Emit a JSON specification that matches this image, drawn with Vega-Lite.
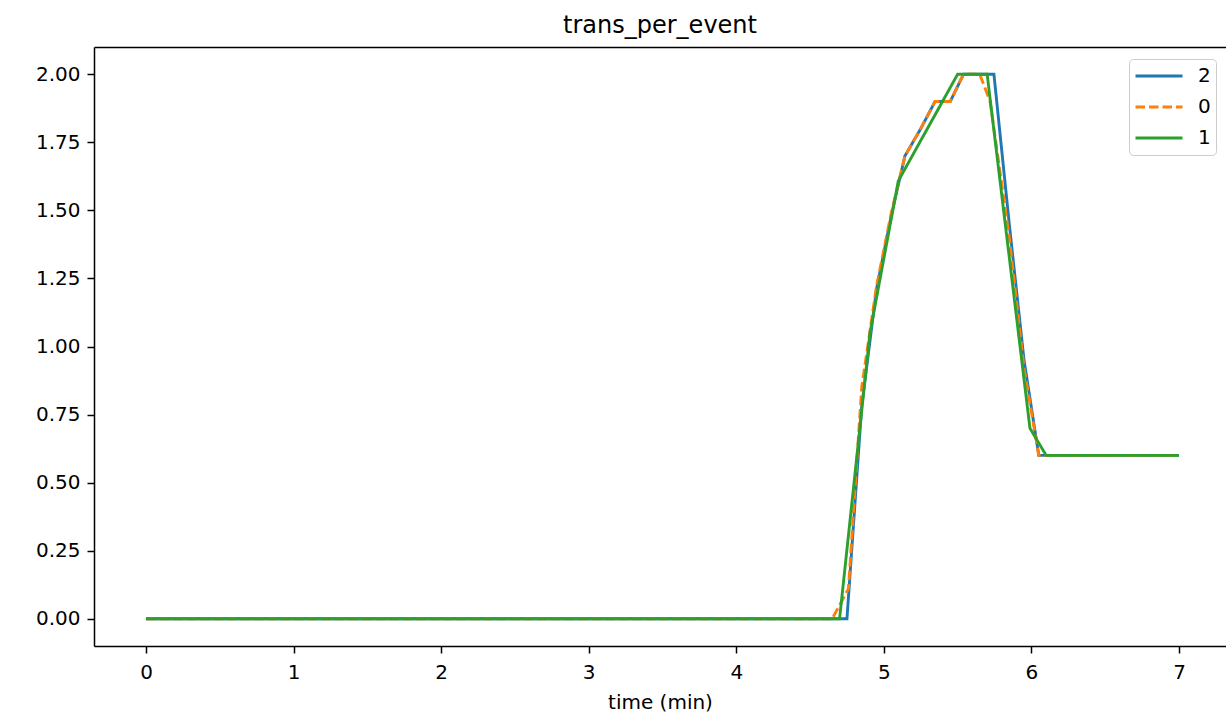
{
  "$schema": "https://vega.github.io/schema/vega-lite/v6.json",
  "width": 1132,
  "height": 599,
  "autosize": {"type": "none"},
  "padding": {"left": 94, "top": 47, "right": 0, "bottom": 73},
  "background": "white",
  "config": {
    "view": {"stroke": null},
    "font": "DejaVu Sans",
    "axis": {
      "domainColor": "black", "domainWidth": 1.5, "tickColor": "black", "tickWidth": 1.5, "tickSize": 7,
      "labelColor": "black", "labelFont": "DejaVu Sans", "labelFontSize": 20, "grid": false,
      "titleFont": "DejaVu Sans", "titleFontSize": 20, "titleFontWeight": "normal", "titleColor": "black"
    }
  },
  "title": {
    "text": "trans_per_event", "font": "DejaVu Sans", "fontSize": 24, "fontWeight": "normal",
    "color": "black", "anchor": "middle", "baseline": "alphabetic", "offset": -10
  },
  "data": {
    "values": [
      {"t": 0, "v": 0, "s": "2"}, {"t": 1, "v": 0, "s": "2"}, {"t": 2, "v": 0, "s": "2"}, {"t": 3, "v": 0, "s": "2"}, {"t": 4, "v": 0, "s": "2"},
      {"t": 4.75, "v": 0, "s": "2"}, {"t": 4.85, "v": 0.78, "s": "2"}, {"t": 4.95, "v": 1.21, "s": "2"}, {"t": 5.05, "v": 1.48, "s": "2"},
      {"t": 5.143, "v": 1.7, "s": "2"}, {"t": 5.25, "v": 1.8, "s": "2"}, {"t": 5.347, "v": 1.9, "s": "2"}, {"t": 5.45, "v": 1.9, "s": "2"},
      {"t": 5.54, "v": 2.0, "s": "2"}, {"t": 5.65, "v": 2.0, "s": "2"}, {"t": 5.746, "v": 2.0, "s": "2"}, {"t": 5.85, "v": 1.45, "s": "2"},
      {"t": 5.95, "v": 0.95, "s": "2"}, {"t": 6.05, "v": 0.6, "s": "2"}, {"t": 6.5, "v": 0.6, "s": "2"}, {"t": 7.0, "v": 0.6, "s": "2"},

      {"t": 0, "v": 0, "s": "0"}, {"t": 1, "v": 0, "s": "0"}, {"t": 2, "v": 0, "s": "0"}, {"t": 3, "v": 0, "s": "0"}, {"t": 4, "v": 0, "s": "0"},
      {"t": 4.65, "v": 0, "s": "0"}, {"t": 4.76, "v": 0.11, "s": "0"}, {"t": 4.85, "v": 0.85, "s": "0"}, {"t": 4.95, "v": 1.22, "s": "0"},
      {"t": 5.05, "v": 1.49, "s": "0"}, {"t": 5.143, "v": 1.7, "s": "0"}, {"t": 5.25, "v": 1.8, "s": "0"}, {"t": 5.347, "v": 1.9, "s": "0"},
      {"t": 5.45, "v": 1.9, "s": "0"}, {"t": 5.54, "v": 2.0, "s": "0"}, {"t": 5.65, "v": 2.0, "s": "0"}, {"t": 5.72, "v": 1.9, "s": "0"},
      {"t": 5.85, "v": 1.4, "s": "0"}, {"t": 5.95, "v": 0.92, "s": "0"}, {"t": 6.05, "v": 0.6, "s": "0"}, {"t": 6.5, "v": 0.6, "s": "0"}, {"t": 7.0, "v": 0.6, "s": "0"},

      {"t": 0, "v": 0, "s": "1"}, {"t": 1, "v": 0, "s": "1"}, {"t": 2, "v": 0, "s": "1"}, {"t": 3, "v": 0, "s": "1"}, {"t": 4, "v": 0, "s": "1"},
      {"t": 4.7, "v": 0, "s": "1"}, {"t": 4.906, "v": 1.05, "s": "1"}, {"t": 5.098, "v": 1.608, "s": "1"}, {"t": 5.5, "v": 2.0, "s": "1"},
      {"t": 5.7, "v": 2.0, "s": "1"}, {"t": 5.99, "v": 0.7, "s": "1"}, {"t": 6.1, "v": 0.6, "s": "1"}, {"t": 6.5, "v": 0.6, "s": "1"}, {"t": 7.0, "v": 0.6, "s": "1"}
    ]
  },
  "layer": [
    {
      "mark": {"type": "line", "strokeWidth": 2.9, "clip": true},
      "encoding": {
        "x": {
          "field": "t", "type": "quantitative",
          "scale": {"domain": [-0.3524, 7.3186], "nice": false, "zero": false},
          "axis": {"orient": "bottom", "values": [0, 1, 2, 3, 4, 5, 6, 7], "format": "d", "labelPadding": 9, "title": "time (min)", "titlePadding": 10, "labelFlush": false}
        },
        "y": {
          "field": "v", "type": "quantitative",
          "scale": {"domain": [-0.1, 2.1], "nice": false, "zero": false},
          "axis": {"values": [0, 0.25, 0.5, 0.75, 1, 1.25, 1.5, 1.75, 2], "format": ".2f", "labelPadding": 7, "title": null, "labelFlush": false}
        },
        "color": {
          "field": "s", "type": "nominal",
          "scale": {"domain": ["2", "0", "1"], "range": ["#1f77b4", "#ff7f0e", "#2ca02c"]},
          "legend": {
            "orient": "none", "legendX": 1035, "legendY": 12, "title": null,
            "symbolType": "stroke", "symbolSize": 2209, "symbolStrokeWidth": 2.9, "clipHeight": 24,
            "labelFont": "DejaVu Sans", "labelFontSize": 20, "labelColor": "black", "labelOffset": 14,
            "rowPadding": 7, "padding": 5, "strokeColor": "#cccccc", "fillColor": "white", "cornerRadius": 4
          }
        },
        "strokeDash": {
          "field": "s", "type": "nominal",
          "scale": {"domain": ["2", "0", "1"], "range": [[1, 0], [9.5, 4], [1, 0]]},
          "legend": {
            "orient": "none", "legendX": 1035, "legendY": 12, "title": null,
            "symbolType": "stroke", "symbolSize": 2209, "symbolStrokeWidth": 2.9, "clipHeight": 24,
            "labelFont": "DejaVu Sans", "labelFontSize": 20, "labelColor": "black", "labelOffset": 14,
            "rowPadding": 7, "padding": 5, "strokeColor": "#cccccc", "fillColor": "white", "cornerRadius": 4
          }
        }
      }
    },
    {
      "mark": {"type": "line", "opacity": 0},
      "encoding": {
        "x": {"field": "t", "type": "quantitative", "axis": {"orient": "top", "labels": false, "ticks": false, "title": null}},
        "y": {"field": "v", "type": "quantitative"}
      }
    }
  ],
  "resolve": {"axis": {"x": "independent"}}
}
